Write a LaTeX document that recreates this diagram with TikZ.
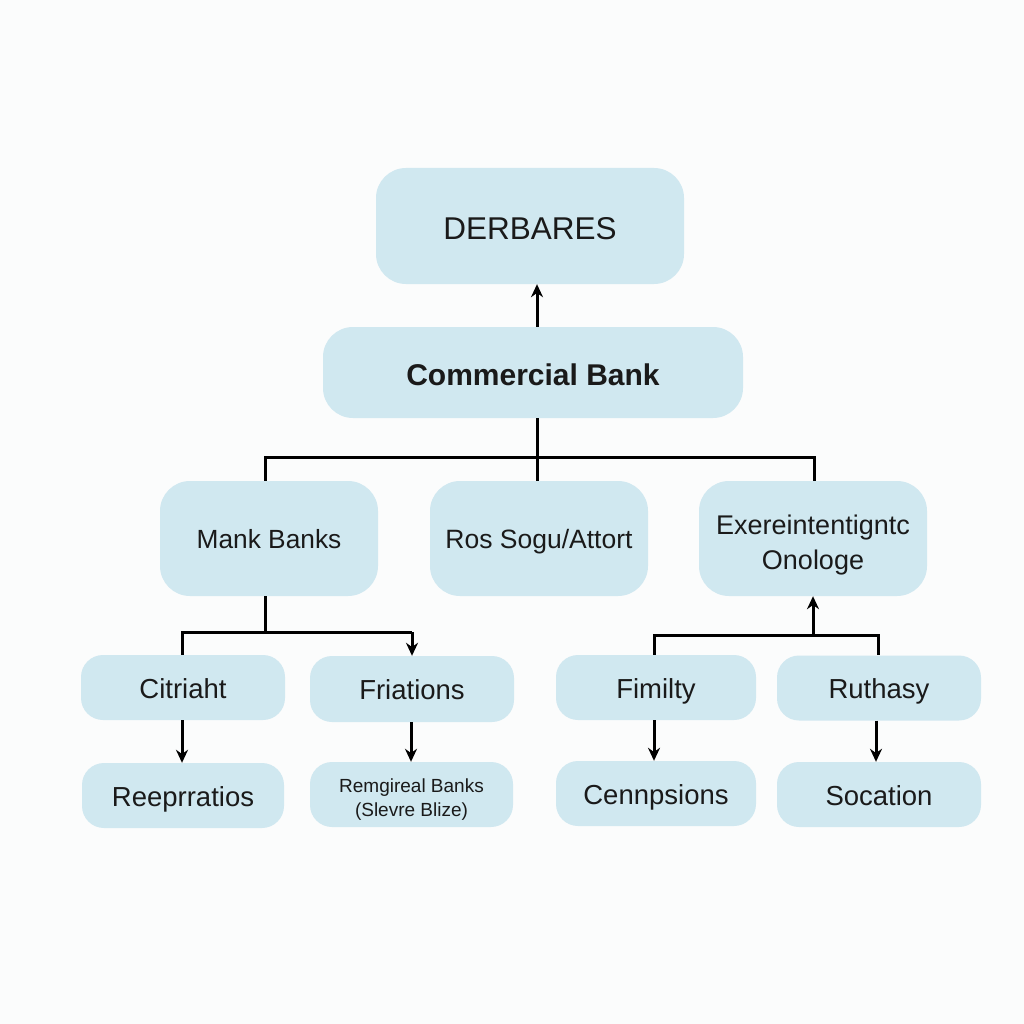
\documentclass[tikz,border=0pt]{standalone}
\usepackage{fontspec}
\setmainfont{Liberation Sans}
\usetikzlibrary{arrows.meta}
\definecolor{boxfill}{HTML}{D0E8F0}
\definecolor{bg}{HTML}{FBFCFC}
\definecolor{txt}{HTML}{1A1A1A}
\begin{document}
\begin{tikzpicture}[x=1pt,y=-1pt,
  box/.style={rectangle, fill=boxfill, draw=none, inner sep=0pt, align=center, text=txt},
  one/.style={text height=#1, text depth=0pt},
  big/.style={box, rounded corners=30pt},
  small/.style={box, rounded corners=22pt},
  lowfont/.style={font=\fontsize{27.5}{31}\selectfont, one=21pt},
  conn/.style={line width=3pt, draw=black},
  arr/.style={conn, -{Stealth[length=13pt,width=12pt]}}]
\fill[bg] (0,0) rectangle (1024,1024);
\useasboundingbox (0,0) rectangle (1024,1024);
% top
\node[big, one=28pt, minimum width=308pt, minimum height=116pt, font=\fontsize{31.5}{35}\selectfont] (der) at (530,226) {DERBARES};
\node[big, one=26pt, minimum width=420pt, minimum height=91pt, font=\fontsize{30}{34}\selectfont\bfseries] (cb) at (533,372.5) {Commercial Bank};
% middle row
\node[big, one=19pt, minimum width=218pt, minimum height=115pt, font=\fontsize{26.3}{30}\selectfont] (mank) at (269,538.5) {Mank Banks};
\node[big, one=19pt, minimum width=218pt, minimum height=115pt, font=\fontsize{26.5}{30}\selectfont] (ros) at (539,538.5) {Ros Sogu/Attort};
\node[big, minimum width=228pt, minimum height=115pt, font=\fontsize{27}{35}\selectfont] (exe) at (813,538.5) {\rule{0pt}{32pt}Exereintentigntc\\Onologe};
% lower rows
\node[small, lowfont, minimum width=204pt, minimum height=65pt] (cit) at (183,687.5) {Citriaht};
\node[small, lowfont, minimum width=204pt, minimum height=66pt] (fri) at (412,689) {Friations};
\node[small, lowfont, minimum width=200pt, minimum height=65pt] (fim) at (656,687.5) {Fimilty};
\node[small, lowfont, minimum width=204pt, minimum height=65pt] (rut) at (879,688) {Ruthasy};
\node[small, lowfont, minimum width=202pt, minimum height=65pt] (ree) at (183,795.5) {Reeprratios};
\node[small, minimum width=203pt, minimum height=65pt, font=\fontsize{19}{24}\selectfont] (rem) at (411.5,794.5) {\rule{0pt}{24pt}Remgireal Banks\\(Slevre Blize)};
\node[small, lowfont, minimum width=200pt, minimum height=65pt] (cen) at (656,793.5) {Cennpsions};
\node[small, lowfont, minimum width=204pt, minimum height=65pt] (soc) at (879,794.5) {Socation};
% junction coordinates
\coordinate (j1) at (537,457);
\coordinate (jl) at (265,457);
\coordinate (jr) at (814,457);
\coordinate (j2) at (265,632);
\coordinate (j2l) at (182,632);
\coordinate (j2r) at (412,632);
\coordinate (j3) at (813,635);
\coordinate (j3l) at (654,635);
\coordinate (j3r) at (878,635);
% connectors
\draw[arr] (cb.north -| 537,0) -- (der.south -| 537,0);
\draw[conn] (cb.south -| j1) -- (j1);
\draw[conn] (jl |- mank.north) -- (jl) -- (jr) -- (jr |- exe.north);
\draw[conn] (j1) -- (j1 |- ros.north);
\draw[conn] (j2 |- mank.south) -- (j2);
\draw[conn] (j2l |- cit.north) -- (j2l) -- (j2r);
\draw[arr] (j2r) -- (j2r |- fri.north);
\draw[conn] (j3l |- fim.north) -- (j3l) -- (j3r) -- (j3r |- rut.north);
\draw[arr] (j3) -- (j3 |- exe.south);
\draw[arr] (cit.south -| 182,0) -- (ree.north -| 182,0);
\draw[arr] (fri.south -| 411,0) -- (rem.north -| 411,0);
\draw[arr] (fim.south -| 654,0) -- (cen.north -| 654,0);
\draw[arr] (rut.south -| 876,0) -- (soc.north -| 876,0);
\end{tikzpicture}
\end{document}
